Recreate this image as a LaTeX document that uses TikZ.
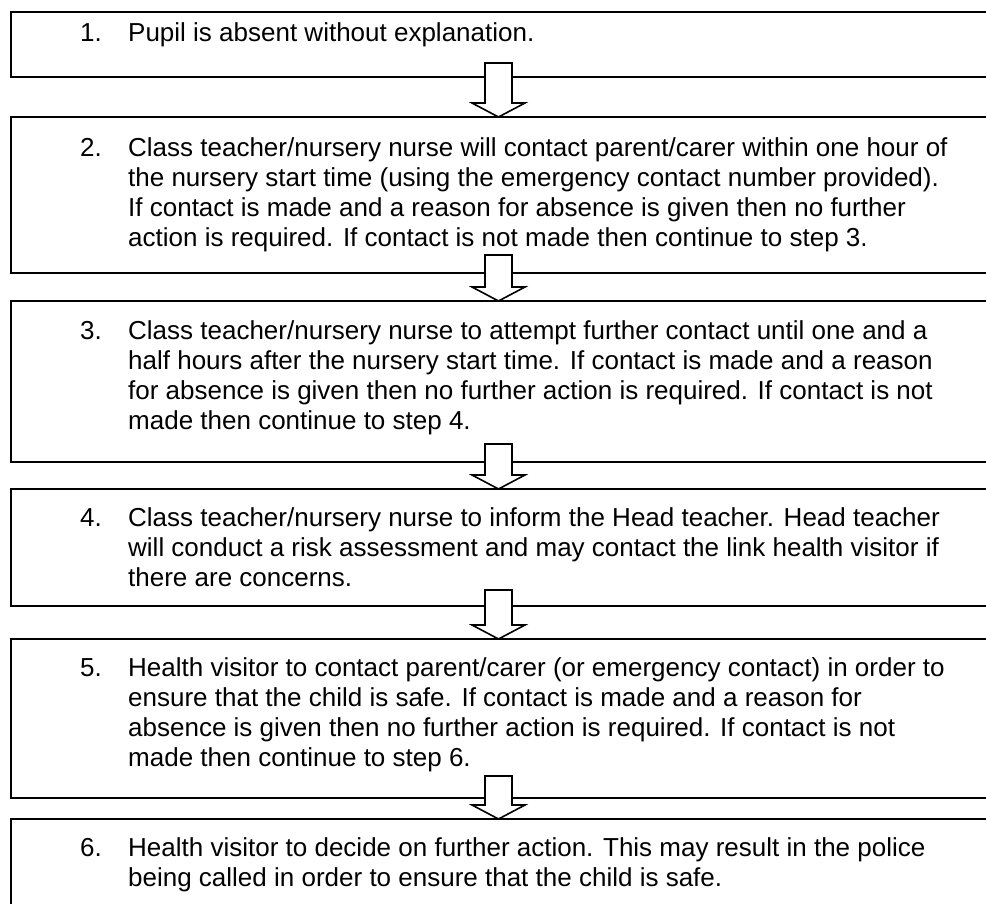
\documentclass[tikz,border=0pt]{standalone}
\usepackage{fontspec}
\setmainfont{Liberation Sans}
\usetikzlibrary{calc}
\tikzset{
  stepframe/.style={draw=black, line width=1.6bp, rectangle, anchor=north west,
    minimum width=1100bp, inner sep=0pt, outer sep=0pt},
  numtext/.style={anchor=base west, inner sep=0pt, font=\fontsize{26bp}{30bp}\selectfont},
  bodytext/.style={anchor=north west, inner sep=0pt, align=left,
    font=\fontsize{26bp}{30bp}\selectfont},
  blockarrow/.style={draw=black, fill=white, line width=1.6bp, line join=miter}
}
% #1 = from box, #2 = to box, #3 = how far the shaft reaches up into the upper box
\newcommand\blockarr[3]{%
  \filldraw[blockarrow] let \p1=(#1.south -| ax), \p2=(#2.north -| ax) in
    (\x1-13.5bp,\y1+#3) -- (\x1-13.5bp,\y2+14bp) -- (\x1-26.5bp,\y2+14bp) --
    (\x2,\y2) -- (\x1+26.5bp,\y2+14bp) -- (\x1+13.5bp,\y2+14bp) --
    (\x1+13.5bp,\y1+#3) -- cycle;}
\newcommand\firstline{\rule{0pt}{20bp}}
\begin{document}
\begin{tikzpicture}[x=1bp,y=-1bp]
\useasboundingbox (0,0) rectangle (986,904);
\clip (0,0) rectangle (986,904);
\fill[white] (0,0) rectangle (986,904);
\coordinate (ax) at (498.5,0);

\node[stepframe, minimum height=65bp]  (b1) at (11,12)  {};
\node[stepframe, minimum height=156bp] (b2) at (11,117) {};
\node[stepframe, minimum height=161bp] (b3) at (11,301) {};
\node[stepframe, minimum height=117bp] (b4) at (11,489) {};
\node[stepframe, minimum height=159bp] (b5) at (11,639) {};
\node[stepframe, minimum height=200bp] (b6) at (11,819) {};

\node[numtext] (n1) at (80,41) {1.};
\node[bodytext] (t1) at (128,21) {\firstline Pupil is absent without explanation.};

\node[numtext] (n2) at (80,156) {2.};
\node[bodytext] (t2) at (128,136) {\firstline Class teacher/nursery nurse will contact parent/carer within one hour of\\
the nursery start time (using the emergency contact number provided).\\
If contact is made and a reason for absence is given then no further\\
action is required. If contact is not made then continue to step 3.};

\node[numtext] (n3) at (80,339) {3.};
\node[bodytext] (t3) at (128,319) {\firstline Class teacher/nursery nurse to attempt further contact until one and a\\
half hours after the nursery start time. If contact is made and a reason\\
for absence is given then no further action is required. If contact is not\\
made then continue to step 4.};

\node[numtext] (n4) at (80,526) {4.};
\node[bodytext] (t4) at (128,506) {\firstline Class teacher/nursery nurse to inform the Head teacher. Head teacher\\
will conduct a risk assessment and may contact the link health visitor if\\
there are concerns.};

\node[numtext] (n5) at (80,676) {5.};
\node[bodytext] (t5) at (128,656) {\firstline Health visitor to contact parent/carer (or emergency contact) in order to\\
ensure that the child is safe. If contact is made and a reason for\\
absence is given then no further action is required. If contact is not\\
made then continue to step 6.};

\node[numtext] (n6) at (80,856) {6.};
\node[bodytext] (t6) at (128,836) {\firstline Health visitor to decide on further action. This may result in the police\\
being called in order to ensure that the child is safe.};

\blockarr{b1}{b2}{14bp}
\blockarr{b2}{b3}{18bp}
\blockarr{b3}{b4}{18bp}
\blockarr{b4}{b5}{16bp}
\blockarr{b5}{b6}{22bp}
\end{tikzpicture}
\end{document}
